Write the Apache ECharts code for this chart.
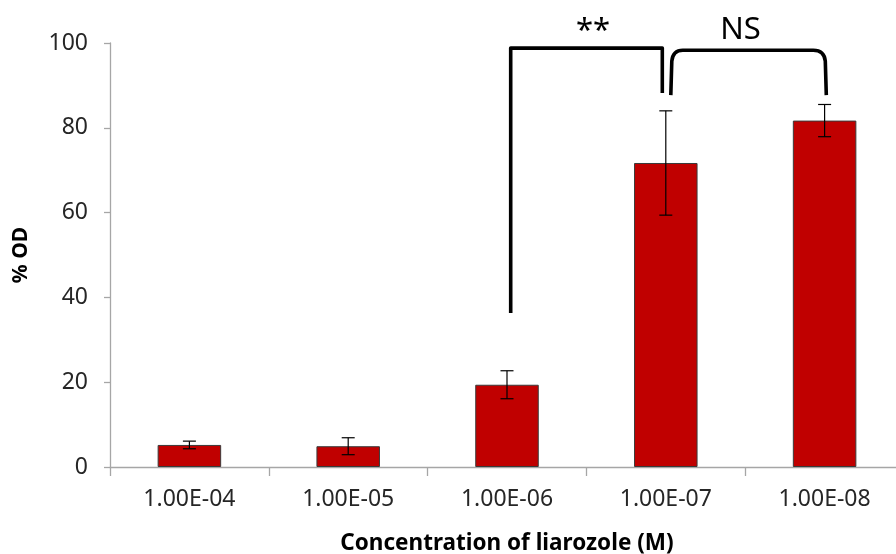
<!DOCTYPE html>
<html>
<head>
<meta charset="utf-8">
<script src="https://cdn.jsdelivr.net/npm/echarts@6/dist/echarts.min.js"></script>
<style>html,body{margin:0;padding:0;background:#fff}#chart{width:896px;height:554px}</style>
</head>
<body>
<div id="chart"></div>
<script>
// ---- data ----
const categories = ['1.00E-04', '1.00E-05', '1.00E-06', '1.00E-07', '1.00E-08'];
const meanOD = [5.2, 4.9, 19.4, 71.7, 81.7];
const errOD = [0.9, 2.0, 3.3, 12.3, 3.8];
const yTicks = [0, 20, 40, 60, 80, 100];
// significance brackets: compared category indices, end levels, top level (in % OD units)
const bracketFrom = [2, 3];
const bracketTo = [3, 4];
const bracketFromEnd = [36.3, 87.7];
const bracketToEnd = [88.2, 87.7];
const bracketTop = [98.8, 98.3];
const sigLabels = ['**', 'NS'];
const sigLabelLevel = [102.9, 103.0];

const chart = echarts.init(document.getElementById('chart'), null, {renderer: 'canvas'});
const FONT = 'Noto Sans';

const errData = categories.map((c, i) => [i, meanOD[i] - errOD[i], meanOD[i] + errOD[i]]);
const bracketData = sigLabels.map((s, i) => [bracketFrom[i], bracketTo[i], bracketFromEnd[i], bracketToEnd[i], bracketTop[i], sigLabelLevel[i], i]);

// pixel styling tweaks for brackets
const bracketStyle = [
  {dxL: 3.7, dxR: -3.5, curved: false, labelDx: 6.5},
  {dxL: 5, dxR: 1.7, curved: true, labelDx: -8}
];

const option = {
  animation: false,
  grid: {left: 110, top: 43, width: 794, height: 424, containLabel: false, outerBoundsMode: 'none'},
  xAxis: {
    type: 'category',
    data: categories,
    name: 'Concentration of liarozole (M)',
    nameLocation: 'middle',
    nameGap: 65,
    nameTextStyle: {fontFamily: FONT, fontSize: 22.5, fontWeight: 'bold', color: '#000'},
    axisLine: {lineStyle: {color: '#a6a6a6', width: 1.3}},
    axisTick: {show: true, length: 9, alignWithLabel: false, lineStyle: {color: '#a6a6a6', width: 1.3}},
    axisLabel: {fontFamily: FONT, fontSize: 23, color: '#262626', margin: 21, interval: 0}
  },
  yAxis: {
    type: 'value',
    min: yTicks[0],
    max: yTicks[yTicks.length - 1],
    interval: yTicks[1] - yTicks[0],
    name: '% OD',
    nameLocation: 'middle',
    nameRotate: 90,
    nameGap: 78,
    nameTextStyle: {fontFamily: FONT, fontSize: 21, fontWeight: 'bold', color: '#000'},
    axisLine: {show: true, lineStyle: {color: '#a6a6a6', width: 1.3}},
    axisTick: {show: true, length: 6, lineStyle: {color: '#a6a6a6', width: 1.3}},
    splitLine: {show: false},
    axisLabel: {fontFamily: FONT, fontSize: 23, color: '#262626', margin: 22}
  },
  series: [
    {
      type: 'bar',
      data: meanOD,
      barWidth: '40%',
      itemStyle: {color: '#C00000', borderColor: '#3a3a3a', borderWidth: 1}
    },
    {
      type: 'custom',
      data: errData,
      encode: {x: 0, y: [1, 2]},
      clip: false,
      z: 5,
      renderItem: function (params, api) {
        const i = api.value(0);
        const lo = api.coord([i, api.value(1)]);
        const hi = api.coord([i, api.value(2)]);
        const hw = 6.5;
        const st = {stroke: '#000', lineWidth: 1.2};
        return {
          type: 'group',
          children: [
            {type: 'line', shape: {x1: lo[0], y1: lo[1], x2: hi[0], y2: hi[1]}, style: st},
            {type: 'line', shape: {x1: lo[0] - hw, y1: lo[1], x2: lo[0] + hw, y2: lo[1]}, style: st},
            {type: 'line', shape: {x1: hi[0] - hw, y1: hi[1], x2: hi[0] + hw, y2: hi[1]}, style: st}
          ]
        };
      }
    },
    {
      type: 'custom',
      data: bracketData,
      encode: {x: 0, y: 4},
      clip: false,
      z: 6,
      renderItem: function (params, api) {
        const k = api.value(6);
        const s = bracketStyle[k];
        const a = api.coord([api.value(0), api.value(2)]);
        const b = api.coord([api.value(1), api.value(3)]);
        const t = api.coord([api.value(0), api.value(4)]);
        const lab = api.coord([api.value(0), api.value(5)]);
        const xl = a[0] + s.dxL, xr = b[0] + s.dxR, yt = t[1];
        let d;
        if (!s.curved) {
          d = `M${xl},${a[1]} L${xl},${yt} L${xr},${yt} L${xr},${b[1]}`;
        } else {
          const r = 11;
          d = `M${xl},${a[1]} L${xl + 1},${yt + r} Q${xl + 2},${yt} ${xl + 12},${yt} L${xr - 13},${yt} Q${xr - 2},${yt} ${xr - 1},${yt + r} L${xr},${b[1]}`;
        }
        return {
          type: 'group',
          children: [
            {type: 'path', shape: {pathData: d}, style: {stroke: '#000', lineWidth: 3.6, fill: null, lineJoin: 'round'}},
            {type: 'text', style: {text: sigLabels[k], x: (xl + xr) / 2 + s.labelDx, y: lab[1], align: 'center', verticalAlign: 'middle', font: '31px "Noto Sans"', fill: '#000'}}
          ]
        };
      }
    }
  ]
};
chart.setOption(option);
</script>
</body>
</html>
